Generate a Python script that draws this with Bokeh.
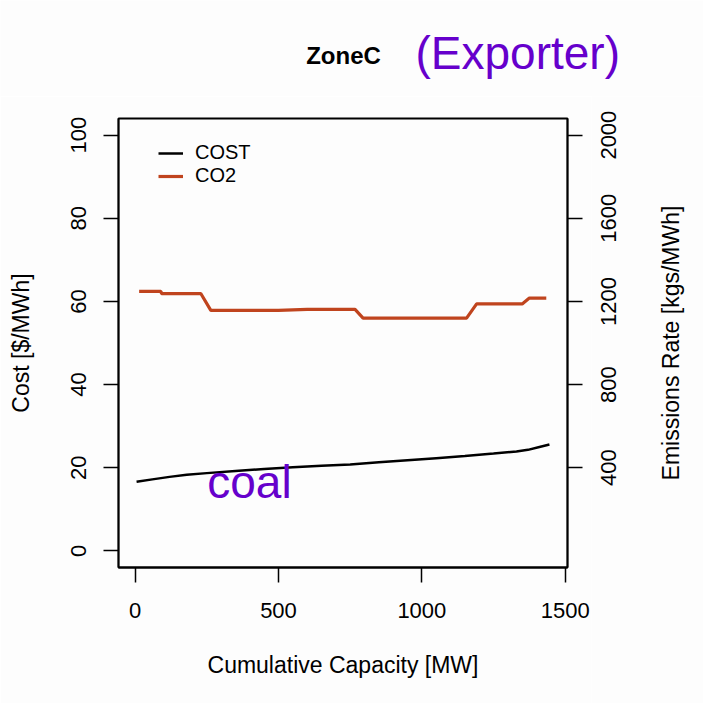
import math
from bokeh.plotting import figure
from bokeh.models import Range1d, LinearAxis, FixedTicker, Legend, LegendItem, Label
from bokeh.layouts import column, row
from bokeh.core.properties import value
from bokeh.embed import file_html
from bokeh.resources import INLINE

# ---- data ----
cost_mw = [5, 60, 120, 180, 250, 350, 450, 550, 650, 750, 850, 950, 1050, 1150, 1250, 1330, 1370, 1410, 1445]
cost = [16.6, 17.2, 17.8, 18.3, 18.7, 19.2, 19.7, 20.1, 20.5, 20.8, 21.3, 21.8, 22.3, 22.8, 23.4, 23.9, 24.3, 25.0, 25.6]

co2_mw = [14, 90, 92, 229, 264, 500, 600, 767, 795, 1156, 1191, 1350, 1375, 1434]
co2 = [1248, 1248, 1238, 1238, 1157, 1157, 1162, 1162, 1120, 1120, 1188, 1188, 1216, 1216]

x_ticks = [0, 500, 1000, 1500]
cost_ticks = [0, 20, 40, 60, 80, 100]
co2_ticks = [400, 800, 1200, 1600, 2000]
co2_tick_labels = [str(v) for v in co2_ticks]

title_text = "ZoneC"
note_text = "(Exporter)"
fuel_text = "coal"
co2_axis_title = "Emissions Rate [kgs/MWh]"

FONT = "Liberation Sans"
PURPLE = "#6600cc"
CO2_COLOR = "#c0441e"
BG = "#fdfdfd"

LEFT, FRAME, P_RIGHT = 118, 449, 24
W = 703
TOP_H = 96
P_TOP, P_BOTTOM = 118 - TOP_H, 136
P_H = P_TOP + FRAME + P_BOTTOM
S_X0 = LEFT + FRAME + P_RIGHT
S_W = W - S_X0
CO2_RANGE = (-80, 2080)

# ---- title strip ----
t = figure(width=W, height=TOP_H, x_range=Range1d(0, W), y_range=Range1d(TOP_H, 0),
           output_backend="svg", toolbar_location=None,
           x_axis_location=None, y_axis_location=None, min_border=0)
t.xgrid.visible = False
t.ygrid.visible = False
t.outline_line_color = None
t.background_fill_color = BG
t.border_fill_color = BG
t.add_layout(Label(x=343, y=55, text=title_text, text_align="center",
                   text_baseline="alphabetic", text_font=FONT,
                   text_font_size="24px", text_font_style="bold", text_color="black"))
t.add_layout(Label(x=415, y=52, text=note_text, text_align="left",
                   text_baseline="alphabetic", text_font=FONT,
                   text_font_size="46px", text_color=PURPLE))

# ---- main chart ----
p = figure(frame_width=FRAME, frame_height=FRAME,
           min_border_left=LEFT, min_border_top=P_TOP,
           min_border_right=P_RIGHT, min_border_bottom=P_BOTTOM,
           x_range=Range1d(-58, 1508), y_range=Range1d(-4, 104),
           output_backend="svg", toolbar_location=None,
           x_axis_location=None, y_axis_location=None)
p.extra_y_ranges = {"co2": Range1d(*CO2_RANGE)}

p.xgrid.visible = False
p.ygrid.visible = False
p.background_fill_color = BG
p.border_fill_color = BG
p.outline_line_color = "black"
p.outline_line_width = 1.8
p.outline_line_alpha = 1.0


def style_axis(ax, standoff, label_standoff):
    ax.major_tick_out = 15
    ax.major_tick_in = 0
    ax.minor_tick_out = 0
    ax.minor_tick_in = 0
    ax.major_tick_line_color = "black"
    ax.major_tick_line_width = 1.5
    ax.axis_line_color = "black"
    ax.axis_line_width = 1.8
    ax.major_label_text_font = FONT
    ax.major_label_text_font_size = "22px"
    ax.major_label_text_color = "black"
    ax.axis_label_text_font = FONT
    ax.axis_label_text_font_size = "23px"
    ax.axis_label_text_font_style = "normal"
    ax.axis_label_text_color = "black"
    ax.major_label_standoff = standoff
    ax.axis_label_standoff = label_standoff


xax = LinearAxis(ticker=FixedTicker(ticks=x_ticks), axis_label="Cumulative Capacity [MW]")
style_axis(xax, 20, 31)
p.add_layout(xax, "below")

yl = LinearAxis(ticker=FixedTicker(ticks=cost_ticks), axis_label="Cost [$/MWh]")
style_axis(yl, 17, 35)
yl.major_label_orientation = "vertical"
p.add_layout(yl, "left")

# right axis: ticks only; its upright labels are drawn in the side strip below
yr = LinearAxis(y_range_name="co2", ticker=FixedTicker(ticks=co2_ticks),
                major_label_overrides={v: "" for v in co2_ticks})
style_axis(yr, 0, 0)
yr.major_label_text_font_size = "1px"
p.add_layout(yr, "right")

r_cost = p.line(cost_mw, cost, line_color="black", line_width=2.5)
r_co2 = p.line(co2_mw, co2, line_color=CO2_COLOR, line_width=3.2, y_range_name="co2")

legend = Legend(items=[LegendItem(label="COST", renderers=[r_cost]),
                       LegendItem(label="CO2", renderers=[r_co2])],
                location=(40, 380), margin=0, padding=0, spacing=0,
                glyph_width=25, glyph_height=22, label_height=22,
                label_standoff=12, label_text_font=FONT, label_text_color="black",
                label_text_font_size="20px", border_line_color=None,
                background_fill_alpha=0)
p.add_layout(legend)

p.add_layout(Label(x=251.5, y=16.6, text=fuel_text, text_align="left",
                   text_baseline="alphabetic", text_font=FONT,
                   text_font_size="46px", text_color=PURPLE))

# ---- right-hand strip: CO2 tick labels and axis title, same scale as the co2 range ----
per_px = (CO2_RANGE[1] - CO2_RANGE[0]) / FRAME
s_lo = CO2_RANGE[0] - P_BOTTOM * per_px
s_hi = CO2_RANGE[1] + P_TOP * per_px
s = figure(width=S_W, height=P_H, x_range=Range1d(S_X0, W), y_range=Range1d(s_lo, s_hi),
           output_backend="svg", toolbar_location=None,
           x_axis_location=None, y_axis_location=None, min_border=0)
s.xgrid.visible = False
s.ygrid.visible = False
s.outline_line_color = None
s.background_fill_color = BG
s.border_fill_color = BG
s.text(x=[608] * len(co2_ticks), y=co2_ticks, text=co2_tick_labels,
       angle=math.pi / 2, text_align="center", text_baseline="middle",
       text_font=value(FONT), text_font_size="22px", text_color="black")
s.add_layout(Label(x=670, y=(CO2_RANGE[0] + CO2_RANGE[1]) / 2, text=co2_axis_title,
                   angle=math.pi / 2, text_align="center", text_baseline="middle",
                   text_font=FONT, text_font_size="23px", text_color="black"))

for fig in (t, p, s):
    try:
        fig.frame_align = False
    except Exception:
        pass

layout = column(t, row(p, s, spacing=0), spacing=0)
open("out.html", "w").write(file_html(layout, INLINE))
